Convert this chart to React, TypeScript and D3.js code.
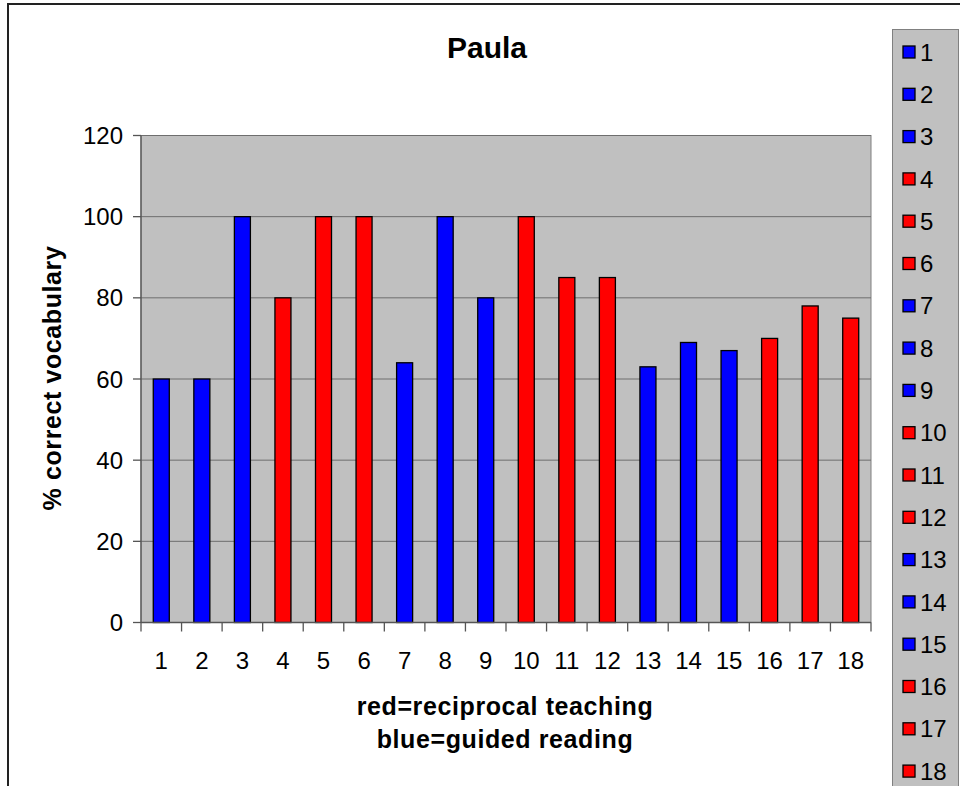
import React from "react";
import * as d3 from "d3";

const categories = ["1","2","3","4","5","6","7","8","9","10","11","12","13","14","15","16","17","18"];
const values = [60, 60, 100, 80, 100, 100, 64, 100, 80, 100, 85, 85, 63, 69, 67, 70, 78, 75];
const groups = ["blue","blue","blue","red","red","red","blue","blue","blue","red","red","red","blue","blue","blue","red","red","red"];
const yTicks = [0, 20, 40, 60, 80, 100, 120];
const title = "Paula";
const yTitle = "% correct vocabulary";
const xTitleLines = ["red=reciprocal teaching", "blue=guided reading"];

const colorMap: Record<string, string> = { blue: "#0000FF", red: "#FF0000" };

export default function App() {
  const W = 960, H = 786;
  const left = 141, right = 871, top = 135.5, bottom = 622.5;
  const x = d3.scaleBand<string>().domain(categories).range([left, right]).paddingInner(0).paddingOuter(0);
  const y = d3.scaleLinear().domain([0, 120]).range([bottom, top]);
  const barW = x.bandwidth() * 0.395;
  const font = "'Liberation Sans', Arial, sans-serif";
  const legendTop = 52;
  const legendStep = 42.3;

  return (
    <div style={{ position: "absolute", left: 0, top: 0, width: W, height: H, overflow: "hidden", background: "#fff" }}>
      <svg width={W} height={H} style={{ display: "block" }} fontFamily={font}>
        <rect x={8} y={4} width={1000} height={900} fill="#fff" stroke="#222" strokeWidth={2} />
        {/* plot area */}
        <rect x={left} y={top} width={right - left} height={bottom - top} fill="#C0C0C0" stroke="#808080" strokeWidth={1} />
        {yTicks.map((t) => (
          <line key={"g" + t} x1={left} x2={right} y1={y(t)} y2={y(t)} stroke="#6e6e6e" strokeWidth={1} />
        ))}
        {/* bars */}
        {categories.map((c, i) => {
          const cx = (x(c) as number) + x.bandwidth() / 2;
          return (
            <rect key={"b" + c} x={cx - barW / 2} y={y(values[i])} width={barW} height={y(0) - y(values[i])}
              fill={colorMap[groups[i]]} stroke="#000" strokeWidth={1.3} />
          );
        })}
        {/* y axis */}
        <line x1={left} x2={left} y1={top} y2={bottom} stroke="#555" strokeWidth={1.3} />
        {yTicks.map((t) => (
          <g key={"yt" + t}>
            <line x1={left - 8} x2={left} y1={y(t)} y2={y(t)} stroke="#555" strokeWidth={1.3} />
            <text x={left - 18} y={y(t)} dy="0.36em" textAnchor="end" fontSize={24} fill="#000">{t}</text>
          </g>
        ))}
        {/* x axis */}
        <line x1={left} x2={right} y1={bottom} y2={bottom} stroke="#555" strokeWidth={1.3} />
        {[...categories.map((c) => x(c) as number), right].map((px, i) => (
          <line key={"xt" + i} x1={px} x2={px} y1={bottom} y2={bottom + 9} stroke="#555" strokeWidth={1.3} />
        ))}
        {categories.map((c) => (
          <text key={"xl" + c} x={(x(c) as number) + x.bandwidth() / 2} y={669} textAnchor="middle" fontSize={24} fill="#000">{c}</text>
        ))}
        {/* titles */}
        <text x={487} y={58} textAnchor="middle" fontSize={30} fontWeight="bold" fill="#000">{title}</text>
        <text transform={`translate(61,378) rotate(-90)`} textAnchor="middle" fontSize={25} fontWeight="bold" letterSpacing={0.6} fill="#000">{yTitle}</text>
        {xTitleLines.map((l, i) => (
          <text key={"xtt" + i} x={505} y={715 + i * 33} textAnchor="middle" fontSize={25} fontWeight="bold" letterSpacing={0.6} fill="#000">{l}</text>
        ))}
        {/* legend */}
        <rect x={892.5} y={29.5} width={66} height={800} fill="#C0C0C0" stroke="#808080" strokeWidth={1} />
        {categories.map((c, i) => {
          const cy = legendTop + i * legendStep;
          return (
            <g key={"lg" + c}>
              <rect x={903} y={cy - 6} width={12} height={12} fill={colorMap[groups[i]]} stroke="#000" strokeWidth={1.3} />
              <text x={920} y={cy} dy="0.36em" fontSize={24} fill="#000">{c}</text>
            </g>
          );
        })}
      </svg>
    </div>
  );
}
